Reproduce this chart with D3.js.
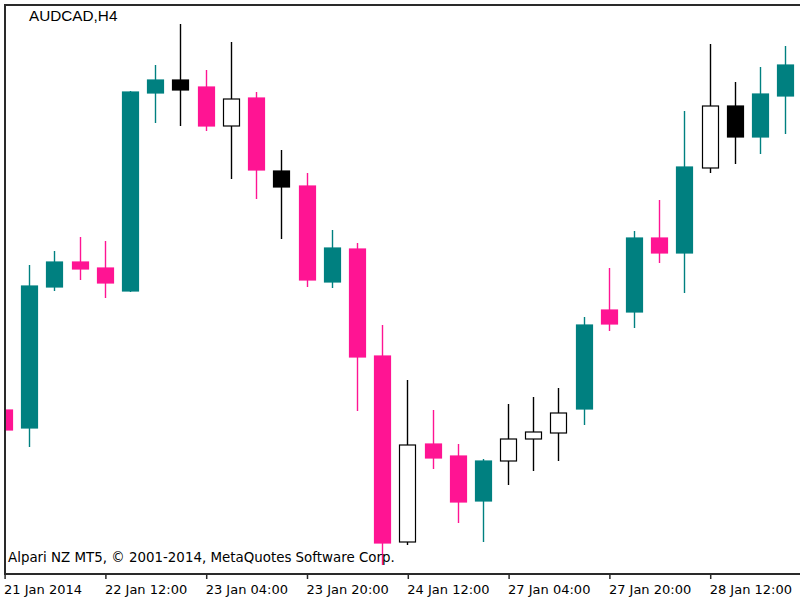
<!DOCTYPE html>
<html>
<head>
<meta charset="utf-8">
<title>AUDCAD,H4</title>
<script src="https://d3js.org/d3.v7.min.js"></script>
<style>
    body {
        margin: 0;
        padding: 0;
        background: #fff;
    }
    .frame {
        stroke: #2a2a2a;
        stroke-width: 2px;
        fill: none;
    }
    .timeAxis text {
        font-family: 'DejaVu Sans', sans-serif;
        font-size: 13px;
        fill: #000;
    }
    .timeAxis line {
        stroke: #2a2a2a;
        stroke-width: 1.5px;
    }
    .chartTitle {
        font-family: 'Liberation Sans', Arial, sans-serif;
        font-size: 15.3px;
    }
    .copyright {
        font-family: 'DejaVu Sans', sans-serif;
        font-size: 13.4px;
    }
</style>
</head>
<body>
<svg id="chart" width="800" height="600"></svg>
<script>
    // H4 bars, prices
    const open  = [0.96780, 0.96744, 0.97026, 0.97076, 0.97064, 0.97018, 0.97414, 0.97440,
                   0.97426, 0.97348, 0.97404, 0.97258, 0.97228, 0.97036, 0.97102, 0.96888,
                   0.96516, 0.96712, 0.96688, 0.96598, 0.96678, 0.96722, 0.96734, 0.96782,
                   0.96980, 0.96976, 0.97124, 0.97094, 0.97264, 0.97388, 0.97326, 0.97408];
    const high  = [0.96782, 0.97070, 0.97098, 0.97126, 0.97118, 0.97418, 0.97470, 0.97552,
                   0.97460, 0.97516, 0.97416, 0.97300, 0.97254, 0.97140, 0.97114, 0.96950,
                   0.96840, 0.96780, 0.96712, 0.96682, 0.96792, 0.96806, 0.96824, 0.96966,
                   0.97064, 0.97138, 0.97200, 0.97378, 0.97512, 0.97436, 0.97466, 0.97508];
    const low   = [0.96738, 0.96706, 0.97018, 0.97040, 0.97004, 0.97016, 0.97354, 0.97348,
                   0.97338, 0.97242, 0.97202, 0.97122, 0.97026, 0.97024, 0.96778, 0.96470,
                   0.96510, 0.96662, 0.96554, 0.96516, 0.96630, 0.96658, 0.96678, 0.96750,
                   0.96938, 0.96944, 0.97074, 0.97014, 0.97254, 0.97272, 0.97292, 0.97332];
    const close = [0.96740, 0.97028, 0.97076, 0.97062, 0.97034, 0.97416, 0.97440, 0.97420,
                   0.97348, 0.97402, 0.97260, 0.97226, 0.97040, 0.97104, 0.96886, 0.96514,
                   0.96710, 0.96684, 0.96596, 0.96678, 0.96722, 0.96736, 0.96774, 0.96950,
                   0.96952, 0.97124, 0.97094, 0.97266, 0.97388, 0.97326, 0.97412, 0.97470];
    // candle colouring: up / down / weak down (black) / weak up (hollow)
    const kind  = ["dn","up","up","dn","dn","up","up","bk","dn","wh","dn","bk","dn","up","dn","dn",
                   "wh","dn","dn","up","wh","wh","wh","up","dn","up","dn","up","wh","bk","up","up"];

    const tickIndex  = [0, 4, 8, 12, 16, 20, 24, 28];
    const tickLabels = ["21 Jan 2014", "22 Jan 12:00", "23 Jan 04:00", "23 Jan 20:00",
                        "24 Jan 12:00", "27 Jan 04:00", "27 Jan 20:00", "28 Jan 12:00"];

    const symbol = "AUDCAD,H4";
    const copyrightText = "Alpari NZ MT5, \u00a9 2001-2014, MetaQuotes Software Corp.";

    const svg = d3.select("#chart");
    const plotLeft = 4, plotTop = 4, plotRight = 800, plotBottom = 574;
    const barStep = 25.2;

    const x = d3.scaleLinear().domain([0, 1]).range([4.6, 4.6 + barStep]);
    const y = d3.scaleLinear().domain([0.96452, 0.97592]).range([plotBottom, plotTop]);

    const fillFor   = {up: "#008080", dn: "#ff1493", bk: "#000000", wh: "#ffffff"};
    const strokeFor = {up: "#008080", dn: "#ff1493", bk: "#000000", wh: "#000000"};

    svg.append("defs").append("clipPath").attr("id", "plotClip")
        .append("rect")
        .attr("x", plotLeft + 1).attr("y", plotTop + 1)
        .attr("width", plotRight - plotLeft - 1).attr("height", plotBottom - plotTop - 1);

    const bars = d3.range(open.length).map(i => ({
        i: i, o: open[i], h: high[i], l: low[i], c: close[i], k: kind[i]
    }));

    const plot = svg.append("g").attr("clip-path", "url(#plotClip)");
    const candle = plot.selectAll("g.candle")
        .data(bars)
        .enter()
        .append("g")
        .attr("class", "candle");

    candle.append("line")
        .attr("x1", d => Math.floor(x(d.i)) + 0.5)
        .attr("x2", d => Math.floor(x(d.i)) + 0.5)
        .attr("y1", d => y(d.h))
        .attr("y2", d => y(d.l))
        .attr("stroke", d => strokeFor[d.k])
        .attr("stroke-width", 1.4);

    candle.append("rect")
        .attr("x", d => Math.floor(x(d.i)) - 8 + 0.5)
        .attr("width", 16)
        .attr("y", d => y(Math.max(d.o, d.c)))
        .attr("height", d => Math.max(1, Math.abs(y(d.o) - y(d.c))))
        .attr("fill", d => fillFor[d.k])
        .attr("stroke", d => strokeFor[d.k])
        .attr("stroke-width", 1.2);

    // frame
    svg.append("path")
        .attr("class", "frame")
        .attr("d", "M" + plotRight + "," + (plotTop + 1) + "H" + (plotLeft + 1) + "V" + plotBottom + "H" + plotRight);

    // time axis
    const axis = d3.axisBottom(x)
        .tickValues(tickIndex)
        .tickFormat((d, i) => tickLabels[i])
        .tickSize(5)
        .tickPadding(6);

    const ax = svg.append("g")
        .attr("class", "timeAxis")
        .attr("transform", "translate(0," + plotBottom + ")")
        .call(axis);
    ax.select(".domain").remove();
    ax.selectAll("text").attr("text-anchor", "start").attr("dx", -1);

    svg.append("text")
        .attr("class", "chartTitle")
        .attr("x", 29)
        .attr("y", 21)
        .text(symbol);

    svg.append("text")
        .attr("class", "copyright")
        .attr("x", 8)
        .attr("y", 562)
        .text(copyrightText);
</script>
</body>
</html>
